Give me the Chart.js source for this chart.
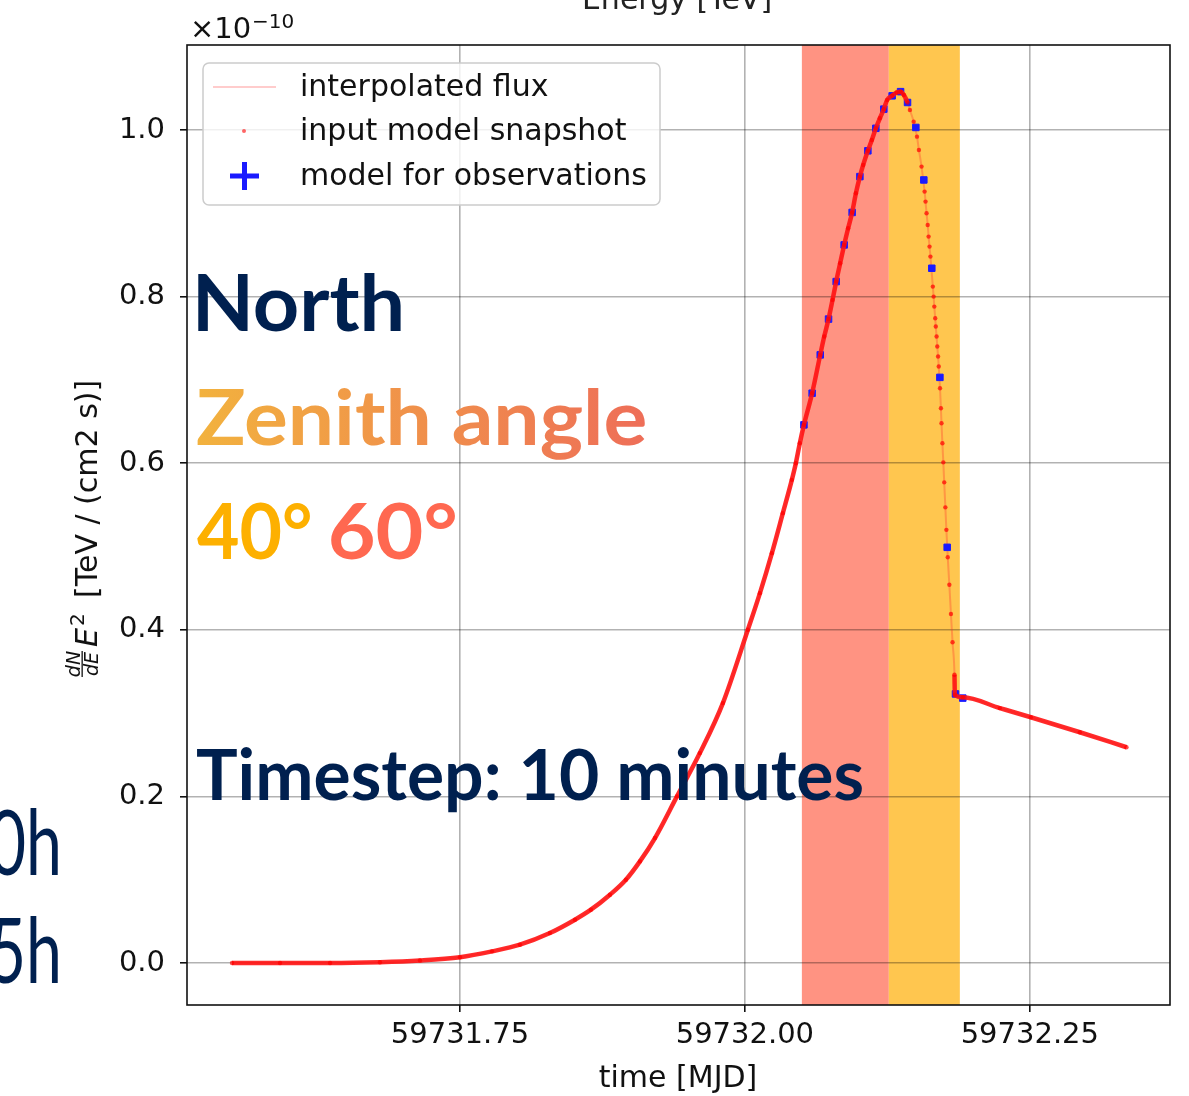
<!DOCTYPE html>
<html>
<head>
<meta charset="utf-8">
<script src="https://cdn.jsdelivr.net/npm/chart.js@4.4.1/dist/chart.umd.min.js"></script>
<style>
  html, body { margin: 0; padding: 0; background: #fff; }
  canvas { display: block; }
</style>
</head>
<body>
<canvas id="fluxChart" width="1189" height="1096"></canvas>
<script>
// light curve (flux in units of 1e-10)
const snapTime = [
  59731.5500, 59731.5921, 59731.6360, 59731.6798, 59731.7149, 59731.7500, 59731.7781,
  59731.8026, 59731.8289, 59731.8509, 59731.8649, 59731.8816, 59731.8956, 59731.9079,
  59731.9211, 59731.9404, 59731.9605, 59731.9807, 59732.0026, 59732.0132,
  59732.0237, 59732.0333, 59732.0412, 59732.0447, 59732.0482,
  59732.0518, 59732.0590, 59732.0661, 59732.0696, 59732.0734, 59732.0769, 59732.0801,
  59732.0836, 59732.0871, 59732.0906, 59732.0941, 59732.0974, 59732.1009, 59732.1038,
  59732.1079, 59732.1114, 59732.1149, 59732.1184, 59732.1219, 59732.1248, 59732.1292,
  59732.1331, 59732.1366, 59732.1395, 59732.1427,
  59732.1448, 59732.1481, 59732.1510, 59732.1527, 59732.1550, 59732.1577, 59732.1585,
  59732.1594, 59732.1604, 59732.1612, 59732.1620, 59732.1628, 59732.1649, 59732.1656,
  59732.1662, 59732.1670, 59732.1675, 59732.1682, 59732.1688, 59732.1695, 59732.1701,
  59732.1712, 59732.1720, 59732.1725, 59732.1733, 59732.1741, 59732.1749, 59732.1759,
  59732.1768, 59732.1780, 59732.1794, 59732.1808, 59732.1822, 59732.1839, 59732.1842,
  59732.1912, 59732.2237, 59732.2509, 59732.2939, 59732.3348
];
const snapFlux = [
  0.000, 0.000, 0.000, 0.001, 0.003, 0.007, 0.014,
  0.022, 0.036, 0.052, 0.064, 0.082, 0.100, 0.122,
  0.150, 0.200, 0.252, 0.312, 0.400, 0.444,
  0.492, 0.540, 0.580, 0.600, 0.624,
  0.646, 0.684, 0.730, 0.752, 0.773, 0.796, 0.818,
  0.840, 0.862, 0.882, 0.901, 0.924, 0.944, 0.958,
  0.975, 0.988, 1.002, 1.014, 1.025, 1.036, 1.041,
  1.045, 1.046, 1.042, 1.033,
  1.024, 1.010, 0.992, 0.976, 0.956, 0.926, 0.914,
  0.900, 0.886, 0.872, 0.860, 0.848, 0.812, 0.800,
  0.788, 0.774, 0.764, 0.752, 0.740, 0.728, 0.716,
  0.690, 0.666, 0.648, 0.624, 0.601, 0.577, 0.547,
  0.520, 0.487, 0.454, 0.419, 0.385, 0.346, 0.322,
  0.319, 0.306, 0.295, 0.277, 0.259
];

// model evaluated every 10 minutes for the observation window
const obsTime = [
  59732.0518, 59732.0590, 59732.0661, 59732.0734, 59732.0801, 59732.0871, 59732.0941,
  59732.1009, 59732.1079, 59732.1149, 59732.1219, 59732.1292, 59732.1366, 59732.1427,
  59732.1500, 59732.1570, 59732.1640, 59732.1711, 59732.1775, 59732.1848, 59732.1912
];
const obsFlux = [
  0.646, 0.684, 0.730, 0.773, 0.818, 0.862, 0.901,
  0.944, 0.975, 1.002, 1.025, 1.041, 1.046, 1.033,
  1.003, 0.940, 0.834, 0.703, 0.499, 0.323, 0.318
];

// zenith angle windows (40 deg and 60 deg)
const bandStart = [59732.0500, 59732.1263];
const bandEnd = [59732.1263, 59732.1886];

const xTicks = [59731.75, 59732.00, 59732.25];
const yTicks = [0.0, 0.2, 0.4, 0.6, 0.8, 1.0];
const legendLabels = ['interpolated flux', 'input model snapshot', 'model for observations'];

const bandColors = ['#ff9382', '#ffc64f'];
const NAVY = '#00204f';
const MPL = 'DejaVu Sans';

function pts(xs, ys) {
  return xs.map((x, i) => ({ x: x, y: ys[i] }));
}

// draw text so its ink spans exactly [x, x + width]
function fitText(ctx, text, x, baseline, width, fill) {
  ctx.textAlign = 'left';
  ctx.textBaseline = 'alphabetic';
  const m = ctx.measureText(text);
  const ink = m.actualBoundingBoxLeft + m.actualBoundingBoxRight;
  const sx = width / ink;
  ctx.save();
  ctx.translate(x + m.actualBoundingBoxLeft * sx, baseline);
  ctx.scale(sx, 1);
  if (typeof fill === 'function') ctx.fillStyle = fill(ctx, -m.actualBoundingBoxLeft, m.actualBoundingBoxRight);
  else ctx.fillStyle = fill;
  ctx.fillText(text, 0, 0);
  ctx.restore();
}

const backdrop = {
  id: 'backdrop',
  beforeDraw(chart) {
    const { ctx, chartArea: a, scales: { x } } = chart;
    ctx.save();
    ctx.fillStyle = '#fff';
    ctx.fillRect(0, 0, chart.width, chart.height);
    bandStart.forEach((s, i) => {
      const x0 = x.getPixelForValue(s);
      const x1 = x.getPixelForValue(bandEnd[i]);
      ctx.fillStyle = bandColors[i];
      ctx.fillRect(x0, a.top, x1 - x0, a.bottom - a.top);
    });
    ctx.restore();
  }
};

const decorations = {
  id: 'decorations',
  afterDraw(chart) {
    const { ctx, chartArea: a } = chart;
    ctx.save();

    // frame
    ctx.strokeStyle = '#111';
    ctx.lineWidth = 1.6;
    ctx.strokeRect(a.left, a.top, a.right - a.left, a.bottom - a.top);

    // legend
    const lx = 203, ly = 63, lw = 457, lh = 142;
    ctx.beginPath();
    ctx.roundRect(lx, ly, lw, lh, 6);
    ctx.fillStyle = 'rgba(255,255,255,0.8)';
    ctx.fill();
    ctx.strokeStyle = '#cccccc';
    ctx.lineWidth = 1.5;
    ctx.stroke();

    const rows = [87, 131, 176];
    ctx.strokeStyle = '#ffcccc';
    ctx.lineWidth = 2;
    ctx.beginPath();
    ctx.moveTo(213, rows[0]);
    ctx.lineTo(276, rows[0]);
    ctx.stroke();
    ctx.fillStyle = 'rgba(255,0,0,0.6)';
    ctx.beginPath();
    ctx.arc(244, rows[1], 2, 0, Math.PI * 2);
    ctx.fill();
    ctx.fillStyle = '#1a1aff';
    ctx.fillRect(230, rows[2] - 2.5, 29, 5);
    ctx.fillRect(242, rows[2] - 14, 5, 28);

    ctx.fillStyle = '#111';
    ctx.font = '30px "' + MPL + '"';
    ctx.textBaseline = 'middle';
    ctx.textAlign = 'left';
    legendLabels.forEach((t, i) => ctx.fillText(t, 300, rows[i] + 1));

    // offset text
    ctx.textBaseline = 'alphabetic';
    ctx.font = '29px "' + MPL + '"';
    ctx.fillText('\u00d710', 190, 38);
    ctx.font = '20px "' + MPL + '"';
    ctx.fillText('\u221210', 252, 28);

    // cut-off title from the slide above
    ctx.fillStyle = '#222';
    ctx.font = '30px "' + MPL + '"';
    ctx.textAlign = 'center';
    ctx.fillText('Energy [TeV]', 677, 9);

    // x axis title
    ctx.fillStyle = '#111';
    ctx.fillText('time [MJD]', 678, 1087);

    // y axis title, rotated
    ctx.save();
    ctx.translate(97, 678);
    ctx.rotate(-Math.PI / 2);
    ctx.textAlign = 'center';
    ctx.font = 'italic 19px "' + MPL + '"';
    ctx.fillText('dN', 14, -17);
    ctx.fillText('dE', 14, 1);
    ctx.fillRect(1, -15.5, 26, 1.3);
    ctx.textAlign = 'left';
    ctx.font = 'italic 30px "' + MPL + '"';
    ctx.fillText('E', 31, 0);
    ctx.font = '20px "' + MPL + '"';
    ctx.fillText('2', 52, -13);
    ctx.font = '30px "' + MPL + '"';
    ctx.fillText('[TeV / (cm2 s)]', 80, 0);
    ctx.restore();

    // slide overlay text
    ctx.font = 'bold 78px Lato';
    fitText(ctx, 'North', 198, 331, 203, NAVY);
    ctx.font = 'bold 77px Lato';
    fitText(ctx, 'Zenith angle', 197, 445, 448, (c, l, r) => {
      const g = c.createLinearGradient(l, 0, r, 0);
      g.addColorStop(0, '#f2b23e');
      g.addColorStop(1, '#ee6e58');
      return g;
    });
    ctx.font = 'bold 76px Lato';
    fitText(ctx, '40\u00b0', 197, 559, 113, '#fdb000');
    fitText(ctx, '60\u00b0', 331, 559, 124, '#ff6850');
    ctx.font = 'bold 71px Lato';
    fitText(ctx, 'Timestep: 10 minutes', 197, 800, 665, NAVY);

    ctx.font = '92px Lato';
    ctx.fillStyle = NAVY;
    ctx.textAlign = 'right';
    ctx.save();
    ctx.translate(62, 875);
    ctx.scale(0.7, 1);
    ctx.fillText('0h', 0, 0);
    ctx.restore();
    ctx.save();
    ctx.translate(62, 983);
    ctx.scale(0.7, 1);
    ctx.fillText('5h', 0, 0);
    ctx.restore();

    ctx.restore();
  }
};

const denseLine = ctx => {
  const a = ctx.p0.parsed.x, b = ctx.p1.parsed.x;
  return (a >= 59732.1427 && b <= 59732.1840) ? 'rgba(0,0,0,0)' : 'rgba(255,20,20,0.9)';
};

new Chart(document.getElementById('fluxChart'), {
  type: 'scatter',
  data: {
    datasets: [{
        label: legendLabels[1],
        data: pts(snapTime, snapFlux),
        showLine: true,
        cubicInterpolationMode: 'monotone',
        borderColor: 'rgba(255,20,20,0.9)',
        borderWidth: 4.5,
        segment: { borderColor: denseLine },
        pointRadius: 2.2,
        pointBackgroundColor: 'rgba(255,0,0,0.7)',
        pointBorderWidth: 0,
        order: 1
      },
      {
        label: legendLabels[2],
        data: pts(obsTime, obsFlux),
        showLine: false,
        pointStyle: 'rect',
        pointRadius: 4.6,
        pointBackgroundColor: '#1a1aff',
        pointBorderColor: '#1a1aff',
        pointBorderWidth: 1,
        order: 2
      },
      {
        label: legendLabels[0],
        data: pts(snapTime, snapFlux),
        showLine: true,
        cubicInterpolationMode: 'monotone',
        borderColor: 'rgba(255,40,40,0.3)',
        borderWidth: 2,
        pointRadius: 0,
        order: 3
      }
    ]
  },
  options: {
    responsive: false,
    animation: false,
    devicePixelRatio: 1,
    events: [],
    layout: { padding: { left: 0, top: 45, right: 19, bottom: 0 } },
    plugins: {
      legend: { display: false },
      tooltip: { enabled: false }
    },
    scales: {
      x: {
        type: 'linear',
        min: 59731.5105,
        max: 59732.373,
        afterBuildTicks: s => { s.ticks = xTicks.map(v => ({ value: v })); },
        afterFit: s => { s.height = 91; },
        border: { display: false },
        grid: {
          color: 'rgba(0,0,0,0.3)',
          lineWidth: 1.6,
          tickColor: '#111',
          tickLength: 7,
          tickWidth: 1.6
        },
        ticks: {
          callback: v => v.toFixed(2),
          color: '#111',
          font: { family: MPL, size: 29 },
          padding: 6,
          maxRotation: 0,
          autoSkip: false
        }
      },
      y: {
        type: 'linear',
        min: -0.0504,
        max: 1.102,
        afterBuildTicks: s => { s.ticks = yTicks.map(v => ({ value: v })); },
        afterFit: s => { s.width = 187; },
        border: { display: false },
        grid: {
          color: 'rgba(0,0,0,0.3)',
          lineWidth: 1.6,
          tickColor: '#111',
          tickLength: 7,
          tickWidth: 1.6
        },
        ticks: {
          callback: v => v.toFixed(1),
          color: '#111',
          font: { family: MPL, size: 29 },
          padding: 15
        }
      }
    }
  },
  plugins: [backdrop, decorations]
});
</script>
</body>
</html>
